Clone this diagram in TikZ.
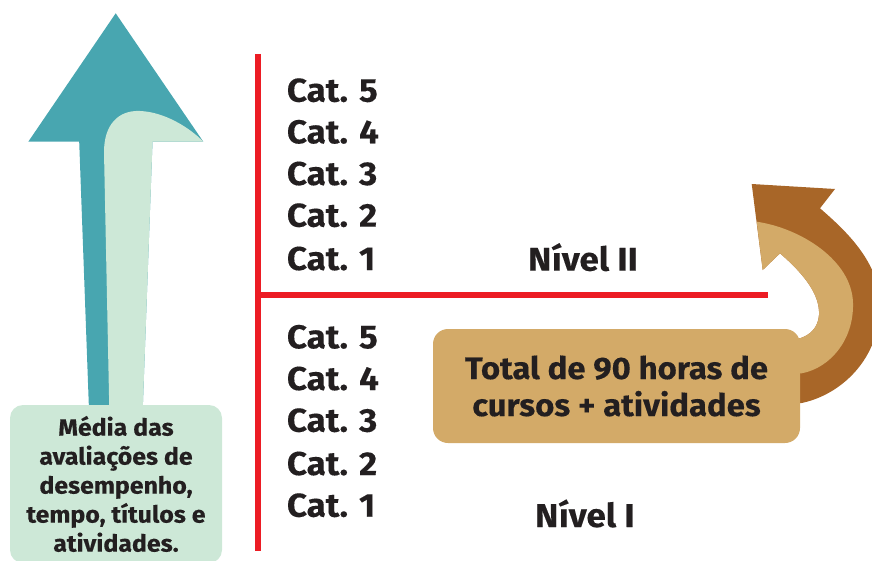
\documentclass[tikz,border=0pt]{standalone}
\usepackage{fontspec}
\setmainfont{Fira Sans}[BoldFeatures={FakeStretch=1.06,FakeBold=0.3}]
\definecolor{tealc}{HTML}{48A6B0}
\definecolor{mintc}{HTML}{CDE8D7}
\definecolor{redc}{HTML}{EC1C24}
\definecolor{tanc}{HTML}{D3AA68}
\definecolor{brownc}{HTML}{A86628}
\definecolor{inkc}{HTML}{231F20}
\begin{document}
\begin{tikzpicture}[x=1pt,y=-1pt,
  catlabel/.style={anchor=base west,inner sep=0pt,text=inkc,font=\bfseries\fontsize{33}{37}\selectfont},
  nivlabel/.style={anchor=base west,inner sep=0pt,text=inkc,font=\bfseries\fontsize{33}{37}\selectfont},
  greenbox/.style={fill=mintc,rounded corners=13pt,minimum width=212pt,minimum height=158pt,inner sep=0pt,align=center,text=inkc,font=\bfseries\fontsize{23.5}{29}\selectfont},
  tanbox/.style={fill=tanc,rounded corners=15pt,minimum width=367pt,minimum height=114pt,inner sep=0pt,align=center,text=inkc,font=\bfseries\fontsize{31}{37}\selectfont},
  redline/.style={draw=redc,line width=6pt}]
\useasboundingbox (0,0) rectangle (872,561);
\clip (0,0) rectangle (872,561);
% teal arrow
\fill[tealc] (115.7,13.3) -- (203.3,141.7) -- (152.5,141.7) -- (142.7,410) -- (89,410) -- (79.2,141.7) -- (28.3,141.7) -- cycle;
\fill[mintc] (104,152) .. controls (104,125) and (118,110) .. (140,111) .. controls (165,112) and (190,128) .. (203.3,141.7) -- (152.5,141.7) -- (142.7,410) -- (109.3,410) -- cycle;
% green box
\node[greenbox] (media) at (116,484) {Média das\\avaliações de\\desempenho,\\tempo, títulos e\\atividades.};
% red lines
\coordinate (vtop) at (258,54);
\coordinate (vbot) at (258,551);
\coordinate (hl) at (258,294.5);
\coordinate (hr) at (768,294.5);
\draw[redline] (vtop) -- (vbot);
\draw[redline] (hl) -- (hr);
% category labels
\node[catlabel] (u5) at (286.7,101.7) {Cat. 5};
\node[catlabel] (u4) at (286.7,143.3) {Cat. 4};
\node[catlabel] (u3) at (286.7,185) {Cat. 3};
\node[catlabel] (u2) at (286.7,226.7) {Cat. 2};
\node[catlabel] (u1) at (286.7,270) {Cat. 1};
\node[catlabel] (l5) at (286.7,348.3) {Cat. 5};
\node[catlabel] (l4) at (286.7,390) {Cat. 4};
\node[catlabel] (l3) at (286.7,431.7) {Cat. 3};
\node[catlabel] (l2) at (286.7,475) {Cat. 2};
\node[catlabel] (l1) at (286.7,516.7) {Cat. 1};
\node[nivlabel] (n2) at (528,270.7) {Nível II};
\node[nivlabel] (n1) at (535,527) {Nível I};
% brown curved arrow
\fill[brownc] (751.7,184) -- (835,189) -- (820,208.3) .. controls (845,230) and (880,262) .. (880,305) .. controls (880,360) and (840,395) .. (801.7,403) -- (795,403) -- (795,338) -- (800,338.3) .. controls (810,335) and (818,328) .. (819,315) .. controls (820,295) and (805,275) .. (780,253.3) -- (762.7,270) -- cycle;
\fill[tanc] (756.7,221.7) .. controls (800,228) and (852,260) .. (853,303) .. controls (854,340) and (830,368) .. (801.7,373.3) -- (795,373.3) -- (795,338) -- (800,338.3) .. controls (810,335) and (818,328) .. (819,315) .. controls (820,295) and (805,275) .. (780,253.3) -- (762.7,270) -- cycle;
% tan box
\node[tanbox] (total) at (616.5,386) {Total de 90 horas de\\cursos + atividades};
\end{tikzpicture}
\end{document}
